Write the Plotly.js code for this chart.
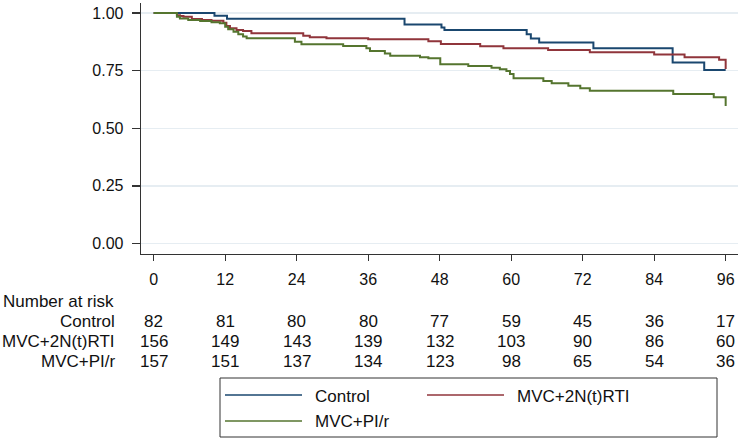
<!DOCTYPE html>
<html>
<head>
<meta charset="utf-8">
<script src="https://cdn.plot.ly/plotly-3.0.1.min.js"></script>
<style>html,body{margin:0;padding:0;background:#fff;}#chart{width:741px;height:439px;}</style>
</head>
<body>
<div id="chart"></div>
<script>
// ---- data ----
const seriesNames = ["Control", "MVC+2N(t)RTI", "MVC+PI/r"];

const controlTime = [0, 10.2, 12.3, 42.1, 48.3, 48.8, 62.6, 63.3, 64.7, 73.8, 87.1, 92.4, 96];
const controlSurv = [1, 0.988, 0.975, 0.951, 0.938, 0.927, 0.908, 0.89, 0.872, 0.847, 0.786, 0.753, 0.753];

const nrtiTime = [0, 3.9, 4.4, 5.0, 6.4, 8.1, 9.7, 11.7, 12.2, 12.8, 13.9, 15.0, 16.4, 25.1, 26.2, 29.0, 36.0, 46.1, 48.2, 54.8, 58.7, 66.2, 73.2, 84.0, 89.1, 94.9, 96];
const nrtiSurv = [1, 0.991, 0.987, 0.984, 0.974, 0.97, 0.967, 0.958, 0.944, 0.934, 0.927, 0.922, 0.913, 0.902, 0.895, 0.891, 0.886, 0.878, 0.866, 0.856, 0.847, 0.84, 0.83, 0.82, 0.808, 0.797, 0.757];

const pirTime = [0, 3.9, 4.4, 5.8, 7.8, 9.7, 11.1, 12.0, 12.5, 13.4, 14.2, 15.0, 15.6, 23.7, 24.8, 31.8, 35.7, 36.3, 38.8, 39.7, 44.7, 46.1, 48.1, 52.8, 56.7, 58.1, 59.2, 59.8, 60.4, 65.4, 66.8, 69.6, 71.6, 73.2, 87.2, 94.0, 96];
const pirSurv = [1, 0.984, 0.977, 0.97, 0.966, 0.96, 0.956, 0.941, 0.93, 0.919, 0.908, 0.898, 0.891, 0.876, 0.865, 0.857, 0.847, 0.836, 0.825, 0.815, 0.808, 0.804, 0.778, 0.77, 0.763, 0.756, 0.749, 0.736, 0.717, 0.705, 0.695, 0.685, 0.674, 0.663, 0.649, 0.635, 0.597];

const xTicks = [0, 12, 24, 36, 48, 60, 72, 84, 96];
const yTicks = [0, 0.25, 0.5, 0.75, 1];

const riskTitle = "Number at risk";
const controlRisk = [82, 81, 80, 80, 77, 59, 45, 36, 17];
const nrtiRisk = [156, 149, 143, 139, 132, 103, 90, 86, 60];
const pirRisk = [157, 151, 137, 134, 123, 98, 65, 54, 36];

// ---- styling ----
const colors = ["#1a476f", "#90353b", "#55752f"];
const FONT = "Liberation Sans, Arial, sans-serif";
const TXT = "#111";

// pixel helpers (plot area: x 141..738, y 3..254)
const L = 141, R = 738, T = 3, B = 254;
const px = v => (v - L) / (R - L);
const py = v => (B - v) / (B - T);

const times = [controlTime, nrtiTime, pirTime];
const survs = [controlSurv, nrtiSurv, pirSurv];
const traces = seriesNames.map((n, i) => ({
  type: "scatter", mode: "lines", name: n,
  x: times[i], y: survs[i],
  line: {shape: "hv", color: colors[i], width: 2},
  showlegend: false, hoverinfo: "skip"
}));

const annotations = [];
const shapes = [];

// risk table
annotations.push({xref: "paper", yref: "paper", x: px(1), y: py(301), xanchor: "left", yanchor: "middle",
  text: riskTitle, showarrow: false, font: {family: FONT, size: 17, color: TXT}});
const riskRows = [controlRisk, nrtiRisk, pirRisk];
const rowY = [321, 341, 361];
riskRows.forEach((row, r) => {
  annotations.push({xref: "paper", yref: "paper", x: px(117), y: py(rowY[r]), xanchor: "right", yanchor: "middle",
    text: seriesNames[r], showarrow: false, font: {family: FONT, size: 17, color: TXT}});
  row.forEach((v, k) => {
    annotations.push({xref: "x", yref: "paper", x: xTicks[k], y: py(rowY[r]), xanchor: "center", yanchor: "middle",
      text: String(v), showarrow: false, font: {family: FONT, size: 17, color: TXT}});
  });
});

// legend (drawn manually, Stata style)
shapes.push({type: "rect", xref: "paper", yref: "paper", x0: px(220), x1: px(717), y0: py(378), y1: py(437),
  line: {color: "#333", width: 1}, fillcolor: "rgba(0,0,0,0)"});
const legPos = [[225, 395], [427, 395], [225, 421]];
seriesNames.forEach((n, i) => {
  const [lx, ly] = legPos[i];
  shapes.push({type: "line", xref: "paper", yref: "paper", x0: px(lx), x1: px(lx + 77), y0: py(ly), y1: py(ly),
    line: {color: colors[i], width: 1.5}});
  annotations.push({xref: "paper", yref: "paper", x: px(lx + 88), y: py(ly + 1), xanchor: "left", yanchor: "middle",
    text: n, showarrow: false, font: {family: FONT, size: 17, color: TXT}});
});

const layout = {
  width: 741, height: 439,
  margin: {l: L, r: 741 - R, t: T, b: 439 - B, pad: 0},
  paper_bgcolor: "#fff", plot_bgcolor: "#fff",
  showlegend: false,
  font: {family: FONT, size: 16, color: TXT},
  xaxis: {
    range: [-2.13, 98.07], tickvals: xTicks, ticktext: xTicks.map(String),
    showgrid: false, zeroline: false,
    showline: true, linecolor: "#333", linewidth: 1.3,
    ticks: "outside", ticklen: 6, tickcolor: "#333", tickwidth: 1.3,
    tickfont: {family: FONT, size: 16, color: TXT}, ticklabelstandoff: 4
  },
  yaxis: {
    range: [-0.0456, 1.0438], tickvals: yTicks, ticktext: yTicks.map(v => v.toFixed(2)),
    showgrid: true, gridcolor: "#e6edf2", gridwidth: 1.5, zeroline: false,
    showline: true, linecolor: "#333", linewidth: 1.3,
    ticks: "outside", ticklen: 8, tickcolor: "#333", tickwidth: 1.3,
    tickfont: {family: FONT, size: 16, color: TXT}, ticklabelstandoff: 5
  },
  annotations: annotations,
  shapes: shapes
};

Plotly.newPlot("chart", traces, layout, {staticPlot: true, displayModeBar: false});
</script>
</body>
</html>
